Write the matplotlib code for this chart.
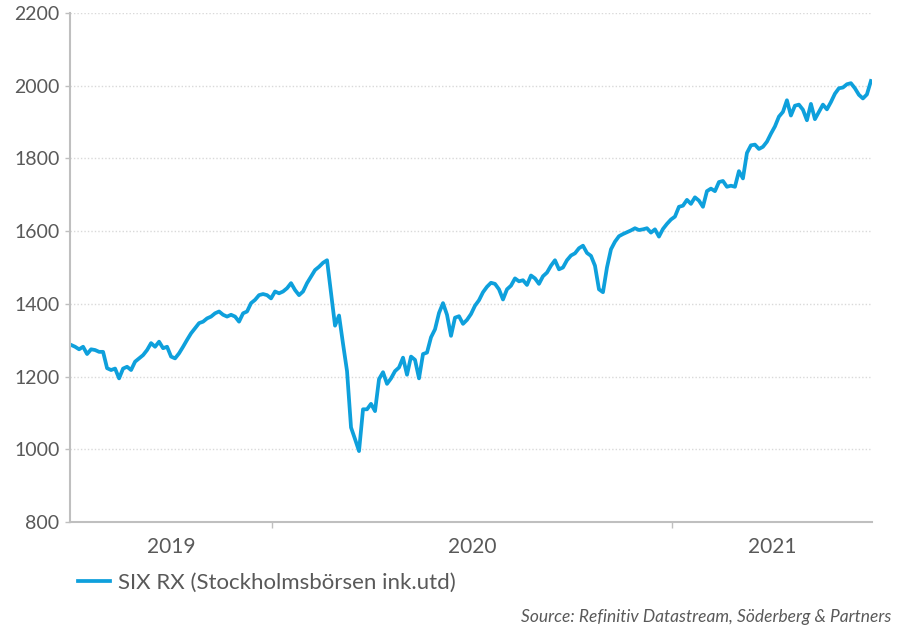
import numpy as np
import pandas as pd
import matplotlib
matplotlib.use("Agg")
import matplotlib.pyplot as plt

plt.rcParams["font.family"] = ["Lato", "DejaVu Sans"]

# SIX RX index at equally spaced dates (Jul 2019 - Jul 2021)
start_date = "2019-07-01"
end_date = "2021-07-02"
six_rx = [
    1287, 1282, 1275, 1282, 1262, 1275, 1273, 1268, 1268, 1223,
    1218, 1222, 1195, 1222, 1227, 1218, 1241, 1250, 1259, 1273,
    1292, 1282, 1296, 1278, 1282, 1255, 1250, 1264, 1282, 1301,
    1319, 1333, 1347, 1351, 1360, 1365, 1374, 1379, 1370, 1365,
    1370, 1365, 1351, 1374, 1379, 1402, 1411, 1424, 1427, 1424,
    1415, 1434, 1429, 1434, 1443, 1457, 1438, 1424, 1434, 1457,
    1475, 1493, 1502, 1513, 1520, 1430, 1340, 1368, 1290, 1215,
    1060, 1028, 995, 1110, 1110, 1125, 1105, 1193, 1212, 1180,
    1195, 1215, 1225, 1252, 1205, 1255, 1246, 1195, 1262, 1266,
    1308, 1330, 1375, 1402, 1370, 1312, 1362, 1366, 1345, 1356,
    1372, 1395, 1410, 1432, 1447, 1458, 1455, 1440, 1412, 1440,
    1450, 1470, 1462, 1465, 1452, 1478, 1470, 1455, 1476, 1486,
    1505, 1520, 1495, 1500, 1520, 1533, 1539, 1553, 1560, 1540,
    1532, 1505, 1440, 1432, 1500, 1550, 1571, 1586, 1592, 1597,
    1602, 1608, 1603, 1605, 1608, 1596, 1605, 1585, 1606, 1620,
    1632, 1640, 1667, 1670, 1686, 1675, 1693, 1684, 1667, 1710,
    1717, 1710, 1735, 1738, 1722, 1725, 1722, 1765, 1745, 1815,
    1836, 1838, 1826, 1832, 1846, 1868, 1888, 1915, 1928, 1960,
    1918, 1945, 1948, 1934, 1905, 1950, 1908, 1928, 1948, 1935,
    1955, 1978, 1993, 1995, 2004, 2007, 1993, 1975, 1965, 1976,
    2013,
]
series_label = "SIX RX (Stockholmsbörsen ink.utd)"
source_text = "Source: Refinitiv Datastream, Söderberg & Partners"
year_labels = ["2019", "2020", "2021"]

dates = pd.date_range(start_date, end_date, periods=len(six_rx))

fig = plt.figure(figsize=(9.01, 6.30), dpi=100)
ax = fig.add_axes([70 / 901, 1 - 522 / 630, 802 / 901, 509 / 630])

line_color = "#0ea0dc"
text_color = "#595959"
axis_color = "#bfbfbf"

ax.plot(dates, six_rx, color=line_color, linewidth=2.7, label=series_label,
        solid_joinstyle="round")

x0 = pd.Timestamp("2019-06-30")
x1 = pd.Timestamp("2021-07-03")
ax.set_xlim(x0, x1)
ax.set_ylim(800, 2200)
ax.set_yticks(np.arange(800, 2201, 200))

# year boundaries as ticks, year names centred between them
bounds = [pd.Timestamp("2020-01-01"), pd.Timestamp("2021-01-01")]
ax.set_xticks(bounds)
ax.set_xticklabels([])
edges = [x0] + bounds + [x1]
mids = [edges[i] + (edges[i + 1] - edges[i]) / 2 for i in range(3)]
ax.set_xticks(mids, minor=True)
ax.set_xticklabels(year_labels, minor=True)
ax.tick_params(axis="x", which="minor", length=0, pad=11,
               labelsize=15, labelcolor=text_color)
ax.tick_params(axis="x", which="major", length=4, width=1, color=axis_color,
               direction="out")
ax.tick_params(axis="y", length=3.5, width=1, color=axis_color, pad=4,
               labelsize=14, labelcolor=text_color)

ax.grid(axis="y", color="#d9d9d9", linestyle=(0, (1, 1.5)), linewidth=1)
ax.set_axisbelow(True)
for s in ["top", "right"]:
    ax.spines[s].set_visible(False)
for s in ["left", "bottom"]:
    ax.spines[s].set_color(axis_color)
    ax.spines[s].set_linewidth(1.5)

fig.legend(loc="center left", bbox_to_anchor=(78 / 901, 1 - 583 / 630),
           frameon=False, borderpad=0, borderaxespad=0, handlelength=1.45,
           handletextpad=0.35, fontsize=16, labelcolor=text_color)

fig.text(891 / 901, 1 - 617 / 630, source_text, ha="right", va="center",
         fontsize=12.5, style="italic", color=text_color)

fig.savefig("out.png", dpi=100)
